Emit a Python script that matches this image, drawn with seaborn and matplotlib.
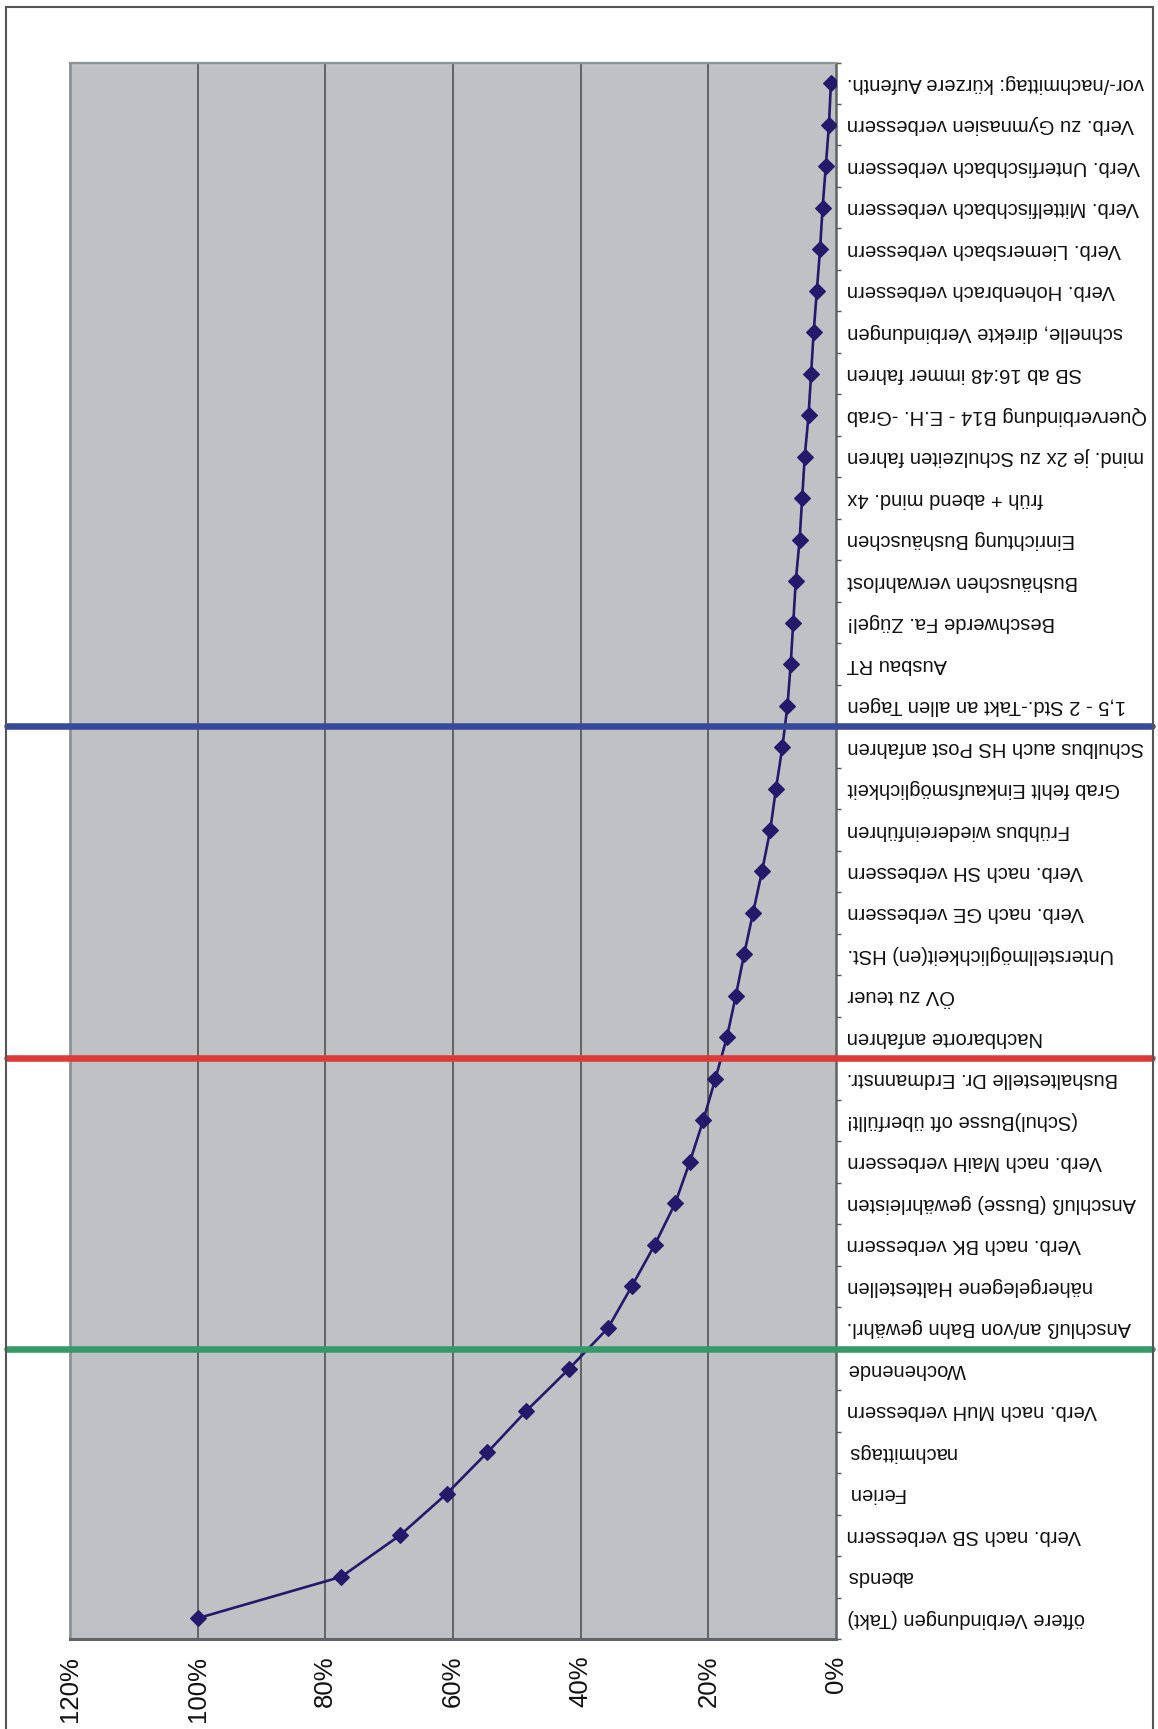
import numpy as np
import pandas as pd
import seaborn as sns
import matplotlib.pyplot as plt
from matplotlib.patches import Rectangle
from matplotlib.ticker import FixedLocator

# Kategorien (von unten nach oben) und Anteile in %
kategorien = [
    "öftere Verbindungen (Takt)",
    "abends",
    "Verb. nach SB verbessern",
    "Ferien",
    "nachmittags",
    "Verb. nach MuH verbessern",
    "Wochenende",
    "Anschluß an/von Bahn gewährl.",
    "nähergelegene Haltestellen",
    "Verb. nach BK verbessern",
    "Anschluß (Busse) gewährleisten",
    "Verb. nach MaiH verbessern",
    "(Schul)Busse oft überfüllt!",
    "Bushaltestelle Dr. Erdmannstr.",
    "Nachbarorte anfahren",
    "ÖV zu teuer",
    "Unterstellmöglichkeit(en) HSt.",
    "Verb. nach GE verbessern",
    "Verb. nach SH verbessern",
    "Frühbus wiedereinführen",
    "Grab fehlt Einkaufsmöglichkeit",
    "Schulbus auch HS Post anfahren",
    "1,5 - 2 Std.-Takt an allen Tagen",
    "Ausbau RT",
    "Beschwerde Fa. Zügel!",
    "Bushäuschen verwahrlost",
    "Einrichtung Bushäuschen",
    "früh + abend mind. 4x",
    "mind. je 2x zu Schulzeiten fahren",
    "Querverbindung B14 - E.H. -Grab",
    "SB ab 16:48 immer fahren",
    "schnelle, direkte Verbindungen",
    "Verb. Hohenbrach verbessern",
    "Verb. Liemersbach verbessern",
    "Verb. Mittelfischbach verbessern",
    "Verb. Unterfischbach verbessern",
    "Verb. zu Gymnasien verbessern",
    "vor-/nachmittag: kürzere Aufenth.",
]
anteile = [
    100.0, 77.5, 68.3, 61.0, 54.6, 48.5, 41.9, 35.7, 32.0, 28.4,
    25.2, 22.9, 20.8, 18.9, 17.1, 15.7, 14.4, 13.0, 11.6, 10.3,
    9.4, 8.4, 7.6, 7.1, 6.7, 6.3, 5.7, 5.3, 4.9, 4.3,
    3.9, 3.5, 3.0, 2.5, 2.1, 1.6, 1.1, 0.8,
]
x_ticks = [0, 20, 40, 60, 80, 100, 120]
x_tick_labels = ["0%", "20%", "40%", "60%", "80%", "100%", "120%"]

# ABC-Grenzen: Anzahl Kategorien unterhalb der Linie
abc_grenzen = [7, 14, 22]
abc_farben = ["#35996A", "#DC3A36", "#36499A"]

sns.set_style("white")
plt.rcParams['font.family'] = ['Liberation Sans', 'DejaVu Sans']

df = pd.DataFrame({
    'kategorie': kategorien,
    'anteil': anteile,
    'pos': np.arange(len(kategorien)),
})

fig = plt.figure(figsize=(11.58, 17.29), dpi=100)
ax = fig.add_axes([70 / 1158, 1 - 1639 / 1729, 766 / 1158, (1639 - 62.5) / 1729])
ax.set_facecolor("#C0C1C5")

# vertical gridlines
for xv in x_ticks[1:-1]:
    ax.axvline(xv, color="#4a4a4a", lw=1.1, zorder=1)

sns.lineplot(data=df, x='anteil', y='pos', orient='y', sort=False, ax=ax,
             color="#24196B", lw=1.9, marker='D', markersize=8.2,
             markeredgecolor="#24196B", markeredgewidth=0.8, zorder=3)

ax.set_xlim(120, 0)
ax.set_ylim(-0.5, len(kategorien) - 0.5)

ax.set_xticks(x_ticks)
ax.set_xticklabels(x_tick_labels, rotation=90, fontsize=18.5, color="#111111")
ax.tick_params(axis='x', direction='out', length=5, width=1.2, color="#555555", pad=7)

ax.yaxis.tick_right()
ax.set_yticks(df['pos'])
ax.set_yticklabels(df['kategorie'], rotation=180, fontsize=14.5, color="#111111",
                   va='center')
ax.yaxis.set_minor_locator(FixedLocator(np.arange(-0.5, len(kategorien), 1.0)))
ax.tick_params(axis='y', which='major', length=0, pad=8)
ax.tick_params(axis='y', which='minor', direction='out', length=3.6, width=1.0,
               color="#555555", right=True, left=False)

ax.set_xlabel("")
ax.set_ylabel("")

for side, col, lw in [('left', "#8d9297", 2.0), ('top', "#8d9297", 1.6),
                      ('bottom', "#5f6266", 2.2), ('right', "#5f6266", 1.8)]:
    ax.spines[side].set_visible(True)
    ax.spines[side].set_color(col)
    ax.spines[side].set_linewidth(lw)

# ABC-Linien, reichen über die Achsen hinaus
x0 = (7 - 70) / 766
x1 = (1152 - 70) / 766
for grenze, farbe in zip(abc_grenzen, abc_farben):
    ax.axhline(grenze - 0.5, xmin=x0, xmax=x1, color=farbe, lw=4.7,
               clip_on=False, zorder=4)

# Rahmen um das Diagramm
fig.patches.append(Rectangle((6 / 1158, -0.01), (1153 - 6) / 1158, 1.01 - 7 / 1729,
                             transform=fig.transFigure, fill=False,
                             edgecolor="#555555", lw=1.5))

fig.savefig("out.png", dpi=100)
